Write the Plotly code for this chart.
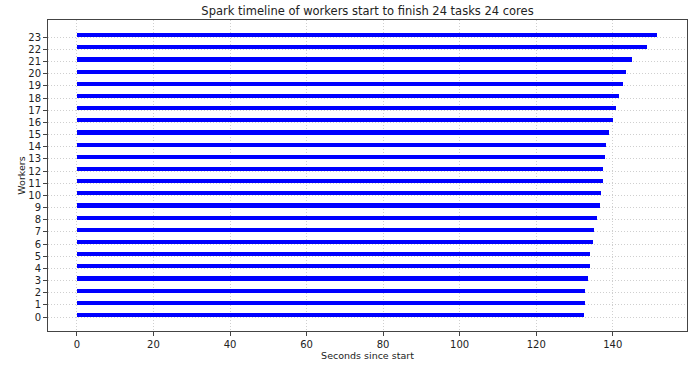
import plotly.graph_objects as go

# Worker ids and the time (seconds since start) each finished
workers = list(range(24))
finish_seconds = [132.5, 132.8, 132.8, 133.5, 134.0, 134.0, 134.9, 135.2,
                  135.9, 136.7, 136.9, 137.5, 137.5, 137.9, 138.2, 138.9,
                  140.1, 140.9, 141.7, 142.7, 143.4, 144.9, 148.9, 151.6]
start_seconds = [0] * 24

font_family = "DejaVu Sans, Liberation Sans, sans-serif"

fig = go.Figure()
fig.add_trace(go.Bar(
    orientation="h",
    y=workers,
    x=[f - s for f, s in zip(finish_seconds, start_seconds)],
    base=start_seconds,
    width=0.34,
    offset=0.0,
    marker=dict(color="#0000ff", line=dict(width=0)),
    hoverinfo="x+y",
))

axis_common = dict(
    showline=True, mirror=True, linecolor="#444444", linewidth=1,
    ticks="outside", ticklen=4, tickcolor="#444444",
    showgrid=True, gridcolor="#cfcfcf", griddash="1px,2px", gridwidth=1,
    zeroline=False, automargin=False,
    tickfont=dict(family=font_family, size=10, color="#222222"),
)

fig.update_layout(
    width=699, height=366,
    margin=dict(l=48, r=12, t=20, b=35),
    paper_bgcolor="white", plot_bgcolor="white",
    showlegend=False,
    bargap=0,
    title=dict(
        text="Spark timeline of workers start to finish 24 tasks 24 cores",
        x=(48 + 687) / 2 / 699, xanchor="center",
        y=1 - 11 / 366, yanchor="middle",
        font=dict(family=font_family, size=11.5, color="#222222"),
    ),
    xaxis=dict(
        axis_common,
        range=[-7.55, 159.4],
        tickmode="array", tickvals=[0, 20, 40, 60, 80, 100, 120, 140],
        title=dict(text="Seconds since start", standoff=2,
                   font=dict(family=font_family, size=9.5, color="#222222")),
    ),
    yaxis=dict(
        axis_common,
        range=[-1.15, 24.42],
        tickmode="array", tickvals=workers,
        title=dict(text="Workers", standoff=0,
                   font=dict(family=font_family, size=9.5, color="#222222")),
    ),
)

fig.write_html("out.html")
